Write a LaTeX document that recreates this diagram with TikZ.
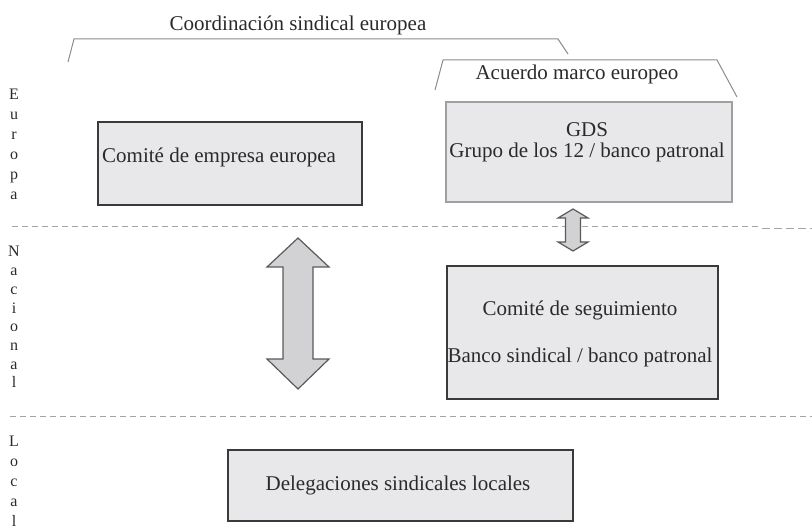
\documentclass[tikz,border=0pt]{standalone}
\usepackage{fontspec}
\setmainfont{Liberation Serif}
\definecolor{boxfill}{HTML}{E8E8EA}
\definecolor{boxedge}{HTML}{3A3A3A}
\definecolor{lightedge}{HTML}{A0A0A0}
\definecolor{txt}{HTML}{2A2A2A}
\definecolor{arrfill}{HTML}{D2D2D4}
\definecolor{arredge}{HTML}{5A5A5A}
\definecolor{brk}{HTML}{8C8C8C}
\definecolor{dashc}{HTML}{A4A4A4}
\tikzset{
  box/.style={draw=boxedge, fill=boxfill, line width=1.5bp, inner sep=0pt},
  lbox/.style={draw=lightedge, fill=boxfill, line width=1.3bp, inner sep=0pt},
  lbl/.style={text=txt, inner sep=0pt, font=\fontsize{21bp}{24bp}\selectfont},
  side/.style={text=txt, inner sep=0pt, anchor=base, font=\fontsize{16bp}{18bp}\selectfont},
  bracket/.style={draw=brk, line width=1bp},
  sep/.style={draw=dashc, line width=1bp, dash pattern=on 6bp off 4bp},
  dblarrow/.style={draw=arredge, fill=arrfill, line width=1.2bp, line join=miter},
}
\begin{document}
\begin{tikzpicture}[x=1bp,y=-1bp]
\useasboundingbox (0,0) rectangle (812,532);

% level separators
\coordinate (s1a) at (12,227);
\coordinate (s1b) at (760,227);
\coordinate (s1c) at (762,229);
\coordinate (s1d) at (812,229);
\draw[sep] (s1a) -- (s1b);
\draw[sep, dash pattern=on 8bp off 4bp] (s1c) -- (s1d);
\coordinate (s2a) at (10,416);
\coordinate (s2b) at (812,416);
\draw[sep] (s2a) -- (s2b);

% side letters
\foreach \l [count=\i] in {E,u,r,o,p,a}
  \node[side] (eu\i) at (14,{100+20*(\i-1)}) {\l};
\foreach \l [count=\i] in {N,a,c,i,o,n,a,l}
  \node[side] (na\i) at (14,{257+18.7*(\i-1)}) {\l};
\foreach \l [count=\i] in {L,o,c,a,l}
  \node[side] (lo\i) at (14,{446+20*(\i-1)}) {\l};

% top brackets
\node[lbl] (coord) at (298,25) {Coordinación sindical europea};
\coordinate (b1a) at (68,62);
\coordinate (b1b) at (74,39);
\coordinate (b1c) at (558,39);
\coordinate (b1d) at (568,54);
\draw[bracket] (b1a) -- (b1b) -- (b1c) -- (b1d);

\node[lbl] (acuerdo) at (577,74) {Acuerdo marco europeo};
\coordinate (b2a) at (435,90);
\coordinate (b2b) at (443,60);
\coordinate (b2c) at (717,60);
\coordinate (b2d) at (737,97);
\draw[bracket] (b2a) -- (b2b) -- (b2c) -- (b2d);

% boxes
\node[box, minimum width=264bp, minimum height=83bp] (cee) at (230,163.5) {};
\node[lbl, anchor=west] (ceet) at (102,157) {Comité de empresa europea};

\node[lbox, minimum width=286bp, minimum height=100bp] (gds) at (589,152) {};
\node[lbl] (gdst1) at (587,130) {GDS};
\node[lbl] (gdst2) at (587,152) {Grupo de los 12 / banco patronal};

\node[box, minimum width=271bp, minimum height=133bp] (seg) at (582.5,332.5) {};
\node[lbl] (segt1) at (580,310) {Comité de seguimiento};
\node[lbl] (segt2) at (580,357) {Banco sindical / banco patronal};

\node[box, minimum width=345bp, minimum height=71bp] (del) at (400.5,485.5) {};
\node[lbl] (delt) at (398,485) {Delegaciones sindicales locales};

% big double arrow
\draw[dblarrow] (298,238) -- (329,267) -- (313,267) -- (313,359) -- (329,359)
  -- (298,389) -- (267,359) -- (283,359) -- (283,267) -- (267,267) -- cycle;

% small double arrow
\draw[dblarrow] (573,209) -- (588,218) -- (580.5,218) -- (580.5,242) -- (588,242)
  -- (573,251) -- (558,242) -- (565.5,242) -- (565.5,218) -- (558,218) -- cycle;
\end{tikzpicture}
\end{document}
